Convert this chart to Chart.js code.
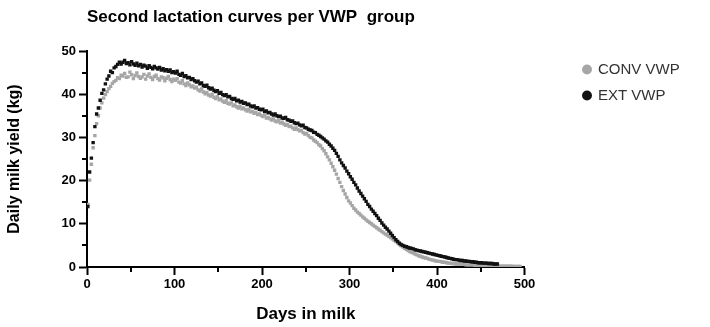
<!DOCTYPE html>
<html>
<head>
<meta charset="utf-8">
<script src="https://cdn.jsdelivr.net/npm/chart.js@4"></script>
<style>
  html, body { margin: 0; padding: 0; background: #fff; }
</style>
</head>
<body>
<canvas id="chart" width="710" height="327"></canvas>
<script>
// jours en lait (un relevé tous les deux jours)
const days = [
  1, 3, 5, 7, 9, 11, 13, 15, 17, 19, 21, 23, 25, 27, 29, 31, 33, 35, 37, 39,
  41, 43, 45, 47, 49, 51, 53, 55, 57, 59, 61, 63, 65, 67, 69, 71, 73, 75, 77, 79,
  81, 83, 85, 87, 89, 91, 93, 95, 97, 99, 101, 103, 105, 107, 109, 111, 113, 115, 117, 119,
  121, 123, 125, 127, 129, 131, 133, 135, 137, 139, 141, 143, 145, 147, 149, 151, 153, 155, 157, 159,
  161, 163, 165, 167, 169, 171, 173, 175, 177, 179, 181, 183, 185, 187, 189, 191, 193, 195, 197, 199,
  201, 203, 205, 207, 209, 211, 213, 215, 217, 219, 221, 223, 225, 227, 229, 231, 233, 235, 237, 239,
  241, 243, 245, 247, 249, 251, 253, 255, 257, 259, 261, 263, 265, 267, 269, 271, 273, 275, 277, 279,
  281, 283, 285, 287, 289, 291, 293, 295, 297, 299, 301, 303, 305, 307, 309, 311, 313, 315, 317, 319,
  321, 323, 325, 327, 329, 331, 333, 335, 337, 339, 341, 343, 345, 347, 349, 351, 353, 355, 357, 359,
  361, 363, 365, 367, 369, 371, 373, 375, 377, 379, 381, 383, 385, 387, 389, 391, 393, 395, 397, 399,
  401, 403, 405, 407, 409, 411, 413, 415, 417, 419, 421, 423, 425, 427, 429, 431, 433, 435, 437, 439,
  441, 443, 445, 447, 449, 451, 453, 455, 457, 459, 461, 463, 465, 467, 469, 471, 473, 475, 477, 479,
  481, 483, 485, 487, 489, 491, 493, 495,
];

// CONV VWP (gris)
const convValues = [
  14.5, 20.1, 23.8, 27.6, 30.4, 33.2, 35.0, 36.8, 38.0, 39.1,
  39.9, 40.6, 41.3, 41.8, 42.5, 42.9, 43.2, 43.8, 43.6, 44.4,
  44.2, 44.8, 43.9, 44.0, 45.1, 44.5, 43.6, 44.3, 44.9, 44.1,
  43.7, 44.0, 44.6, 43.5, 44.2, 44.7, 43.9, 43.4, 44.1, 44.4,
  43.6, 43.3, 44.0, 43.8, 43.1, 43.7, 44.1, 43.4, 42.9, 43.5,
  43.2, 43.6, 42.8, 42.6, 43.1, 42.4, 42.0, 42.6, 42.2, 41.7,
  41.9, 41.4, 41.6, 41.0, 40.7, 41.2, 40.5, 40.1, 40.4, 39.8,
  39.6, 40.0, 39.3, 39.0, 39.4, 38.7, 38.9, 38.4, 38.1, 38.5,
  37.9, 37.7, 38.0, 37.3, 37.5, 37.1, 36.8, 37.2, 36.6, 36.8,
  36.4, 36.1, 36.5, 35.9, 36.0, 35.6, 35.8, 35.3, 35.4, 35.1,
  34.8, 35.1, 34.5, 34.6, 34.3, 34.0, 34.3, 33.8, 33.6, 33.9,
  33.3, 33.5, 33.1, 32.8, 33.0, 32.5, 32.6, 32.2, 31.9, 32.2,
  31.8, 31.5, 31.6, 31.1, 30.8, 30.9, 30.4, 30.0, 29.9, 29.4,
  29.1, 28.8, 28.3, 28.0, 27.4, 26.9, 26.2, 25.5, 24.8, 24.0,
  23.2, 22.4, 21.5, 20.5, 19.6, 18.6, 17.7, 16.9, 16.1, 15.3,
  14.8, 14.2, 13.6, 13.2, 12.7, 12.4, 12.0, 11.6, 11.3, 10.9,
  10.6, 10.3, 10.0, 9.7, 9.4, 9.1, 8.8, 8.5, 8.2, 7.9,
  7.6, 7.4, 7.1, 6.8, 6.5, 6.2, 5.9, 5.6, 5.2, 4.9,
  4.6, 4.3, 4.1, 3.8, 3.6, 3.4, 3.2, 3.0, 2.8, 2.6,
  2.5, 2.3, 2.2, 2.1, 2.0, 1.8, 1.7, 1.6, 1.5, 1.4,
  1.3, 1.3, 1.2, 1.1, 1.1, 1.0, 0.9, 0.9, 0.8, 0.8,
  0.7, 0.7, 0.7, 0.6, 0.6, 0.6, 0.5, 0.5, 0.5, 0.5,
  0.5, 0.4, 0.4, 0.4, 0.4, 0.4, 0.3, 0.3, 0.3, 0.3,
  0.3, 0.3, 0.3, 0.2, 0.2, 0.2, 0.2, 0.2, 0.2, 0.2,
  0.2, 0.2, 0.2, 0.1, 0.1, 0.1, 0.1, 0.1,
];

// EXT VWP (noir)
const extValues = [
  14.0, 22.0, 25.2, 28.8, 32.5, 35.4, 36.8, 38.6, 40.2, 41.0,
  42.4, 43.5, 44.2, 45.3, 45.0, 46.1, 46.4, 46.9, 47.4, 47.0,
  47.4, 47.8, 47.1, 47.3, 46.8, 47.5, 47.0, 46.7, 47.2, 46.6,
  46.9, 46.3, 46.7, 46.5, 46.0, 46.6, 46.2, 45.9, 46.4, 46.1,
  45.8, 46.2, 45.6, 45.9, 45.4, 45.7, 45.3, 45.6, 45.0, 45.2,
  44.9, 45.3, 44.6, 44.4, 44.8, 44.1, 44.3, 43.8, 43.9, 43.4,
  43.6, 43.1, 42.8, 43.0, 42.4, 42.6, 42.0, 41.8, 42.1, 41.5,
  41.2, 41.4, 40.9, 40.6, 40.8, 40.2, 40.4, 39.9, 39.7, 39.9,
  39.4, 39.5, 39.0, 38.8, 39.0, 38.5, 38.6, 38.2, 38.3, 37.9,
  38.0, 37.6, 37.7, 37.3, 37.1, 37.3, 36.8, 36.9, 36.5, 36.4,
  36.5, 36.0, 36.1, 35.7, 35.8, 35.4, 35.2, 35.4, 35.0, 34.8,
  34.9, 34.5, 34.4, 34.6, 34.1, 34.0, 33.7, 33.8, 33.4, 33.2,
  33.3, 32.9, 32.7, 32.8, 32.3, 32.2, 31.9, 31.7, 31.6, 31.2,
  31.1, 30.7, 30.5, 30.2, 29.9, 29.6, 29.2, 28.9, 28.4, 28.0,
  27.5, 27.0, 26.3, 25.6, 24.8, 24.1, 23.5, 22.9, 22.2, 21.6,
  20.9, 20.3, 19.6, 19.0, 18.3, 17.6, 17.0, 16.4, 15.8, 15.2,
  14.5, 14.0, 13.4, 12.9, 12.4, 11.9, 11.3, 10.8, 10.2, 9.7,
  9.2, 8.8, 8.3, 7.8, 7.3, 6.8, 6.3, 5.9, 5.5, 5.2,
  5.0, 4.8, 4.7, 4.5, 4.4, 4.3, 4.2, 4.0, 3.9, 3.8,
  3.7, 3.6, 3.5, 3.4, 3.3, 3.2, 3.1, 3.0, 2.9, 2.8,
  2.7, 2.6, 2.5, 2.4, 2.3, 2.2, 2.1, 2.0, 1.9, 1.8,
  1.7, 1.7, 1.6, 1.5, 1.5, 1.4, 1.4, 1.3, 1.3, 1.2,
  1.2, 1.1, 1.1, 1.0, 1.0, 1.0, 0.9, 0.9, 0.9, 0.8,
  0.8, 0.8, 0.7, 0.7, 0.7,
];

const xMinorTicks = [50, 150, 250, 350, 450];
const yMinorTicks = [5, 15, 25, 35, 45];

const FONT = "'Liberation Sans', Arial, sans-serif";

function toPoints(values) {
  return values.map((v, i) => ({ x: days[i], y: v }));
}

// petits traits entre les graduations principales
const minorTicks = {
  id: "minorTicks",
  afterDraw(chart) {
    const { ctx, chartArea, scales } = chart;
    ctx.save();
    ctx.strokeStyle = "#000";
    ctx.lineWidth = 2;
    ctx.beginPath();
    xMinorTicks.forEach((v) => {
      const px = Math.round(scales.x.getPixelForValue(v));
      ctx.moveTo(px, chartArea.bottom);
      ctx.lineTo(px, chartArea.bottom + 5);
    });
    yMinorTicks.forEach((v) => {
      const py = Math.round(scales.y.getPixelForValue(v));
      ctx.moveTo(chartArea.left - 5, py);
      ctx.lineTo(chartArea.left, py);
    });
    ctx.stroke();
    ctx.restore();
  },
};

new Chart(document.getElementById("chart"), {
  type: "scatter",
  data: {
    datasets: [
      {
        label: "CONV VWP",
        data: toPoints(convValues),
        backgroundColor: "#a6a6a6",
        borderColor: "#a6a6a6",
        borderWidth: 0,
        pointStyle: "rect",
        pointRadius: 2.4,
        order: 2,
      },
      {
        label: "EXT VWP",
        data: toPoints(extValues),
        backgroundColor: "#111",
        borderColor: "#111",
        borderWidth: 0,
        pointStyle: "rect",
        pointRadius: 2.4,
        order: 1,
      },
    ],
  },
  options: {
    responsive: false,
    animation: false,
    layout: { padding: { left: 0, right: 23, top: 0, bottom: 0 } },
    plugins: {
      tooltip: { enabled: false },
      title: {
        display: true,
        text: "Second lactation curves per VWP  group",
        align: "start",
        fullSize: false,
        color: "#000",
        font: { family: FONT, size: 17, weight: "bold" },
        padding: { top: 6.8, bottom: 23.8 },
      },
      legend: {
        position: "right",
        align: "start",
        fullSize: false,
        labels: {
          usePointStyle: true,
          pointStyle: "circle",
          boxWidth: 7,
          boxHeight: 7,
          padding: 11,
          color: "#333",
          font: { family: FONT, size: 15 },
          sort: (a, b) => a.datasetIndex - b.datasetIndex,
        },
      },
    },
    scales: {
      x: {
        type: "linear",
        min: 0,
        max: 500,
        ticks: {
          stepSize: 100,
          color: "#000",
          padding: 2,
          font: { family: FONT, size: 13, weight: "bold" },
        },
        grid: {
          drawOnChartArea: false,
          tickLength: 8,
          tickWidth: 2,
          tickColor: "#000",
        },
        border: { display: true, color: "#000", width: 2 },
        title: {
          display: true,
          text: "Days in milk",
          color: "#000",
          font: { family: FONT, size: 17, weight: "bold" },
          padding: { top: 0, bottom: 2.8 },
        },
        afterFit: (s) => {
          s.height = 60;
        },
      },
      y: {
        min: 0,
        max: 50,
        ticks: {
          stepSize: 10,
          color: "#000",
          padding: 3,
          font: { family: FONT, size: 13, weight: "bold" },
        },
        grid: {
          drawOnChartArea: false,
          tickLength: 8,
          tickWidth: 2,
          tickColor: "#000",
        },
        border: { display: true, color: "#000", width: 2 },
        title: {
          display: true,
          text: "Daily milk yield (kg)",
          color: "#000",
          font: { family: FONT, size: 16, weight: "bold" },
          padding: { top: 5, bottom: 0 },
        },
        afterFit: (s) => {
          s.width = 87;
        },
      },
      // espace vide entre le graphe et la légende
      gap: {
        type: "linear",
        position: "right",
        display: true,
        grid: { display: false },
        border: { display: false },
        ticks: { display: false },
        afterFit: (s) => {
          s.width = 48;
        },
      },
    },
  },
  plugins: [minorTicks],
});
</script>
</body>
</html>
